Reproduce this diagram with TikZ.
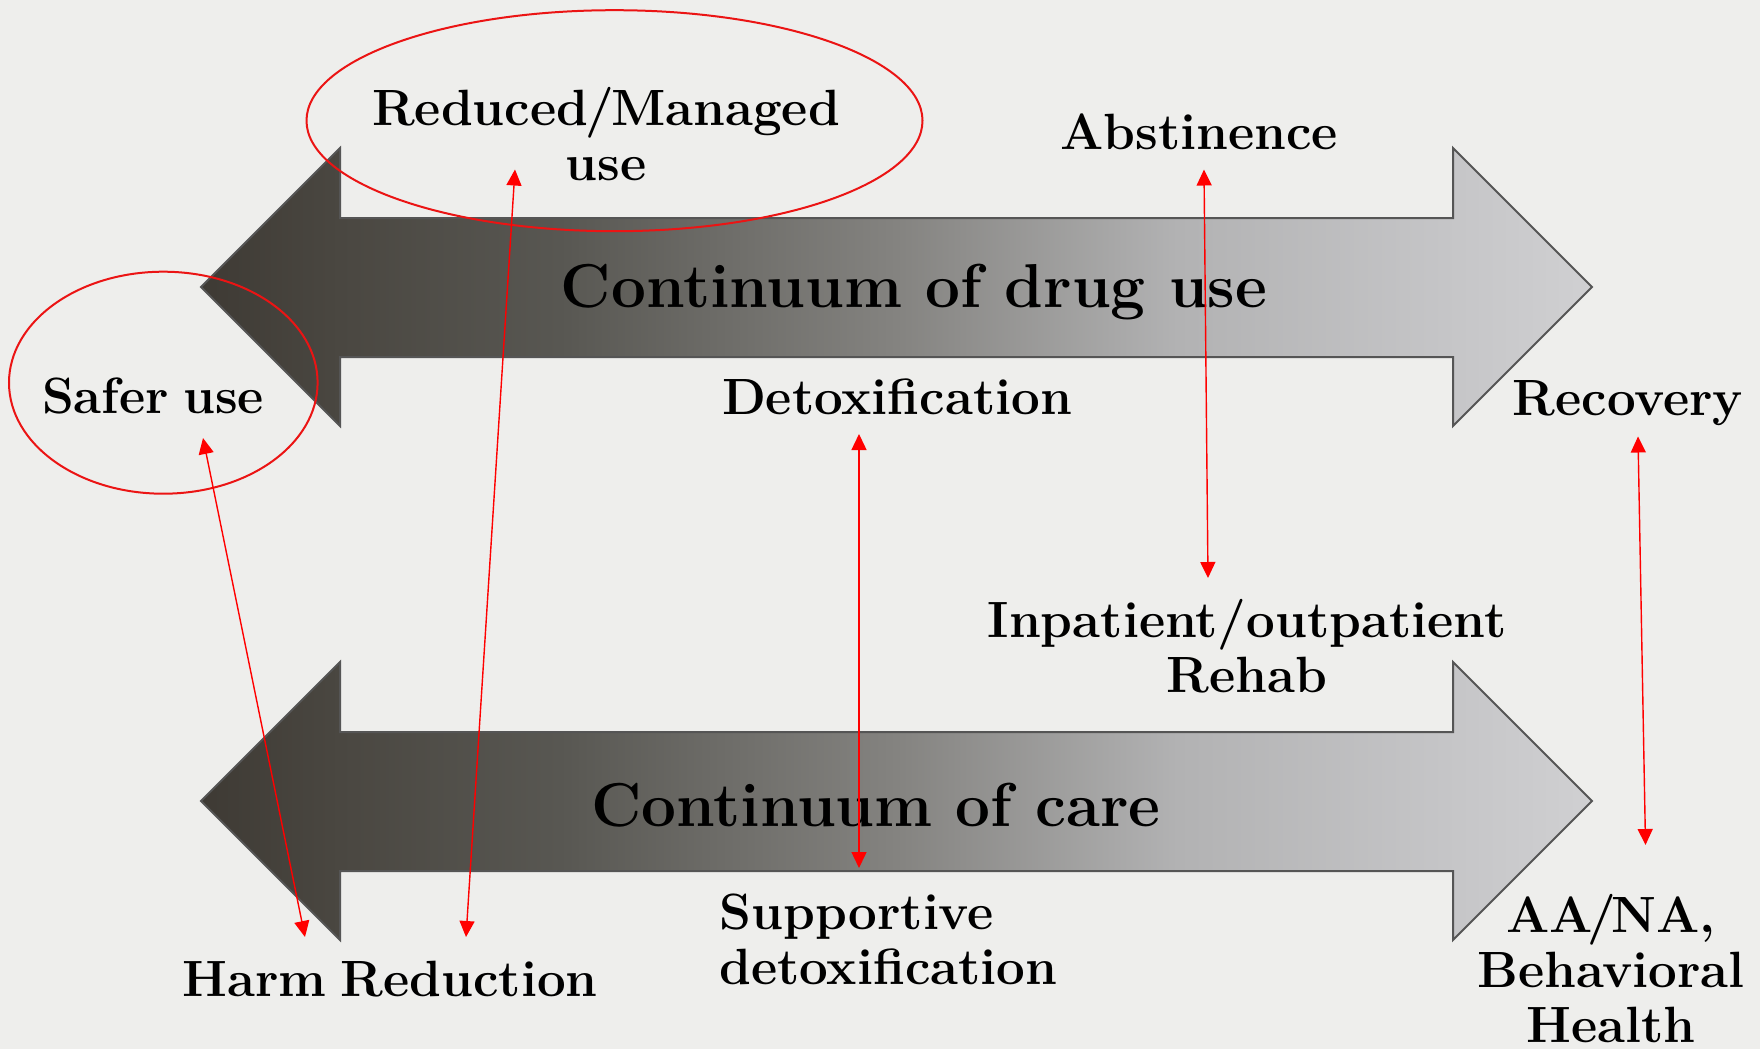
\documentclass[tikz,border=0pt]{standalone}
\usetikzlibrary{arrows.meta}
\definecolor{bg}{RGB}{238,238,236}
\definecolor{outl}{RGB}{85,85,85}
\definecolor{ringred}{RGB}{235,20,20}
\definecolor{cA}{RGB}{62,58,52}
\definecolor{cB}{RGB}{74,71,65}
\definecolor{cC}{RGB}{88,87,82}
\definecolor{cD}{RGB}{132,131,128}
\definecolor{cE}{RGB}{178,178,179}
\definecolor{cF}{RGB}{198,198,200}
\definecolor{cG}{RGB}{208,208,210}
\pgfdeclarehorizontalshading{arrowshade}{100bp}{color(0bp)=(cA); color(25bp)=(cA); color(30bp)=(cB); color(37.9bp)=(cC); color(50bp)=(cD); color(60.1bp)=(cE); color(70.2bp)=(cF); color(75bp)=(cG); color(100bp)=(cG)}
\newcommand{\lblfont}{\fontsize{25.5}{27.5}\selectfont\bfseries\spaceskip=0.28em plus 0.1em minus 0.1em\relax}
\tikzset{
  bigarrow/.style={draw=outl, line width=1pt, shading=arrowshade, line join=miter},
  lbl/.style={font=\lblfont, align=center, inner sep=0pt},
  ttl/.style={font=\fontsize{31}{34}\selectfont\bfseries, inner sep=0pt},
  ring/.style={draw=ringred, line width=1pt},
  link/.style={red, line width=0.7pt, {Triangle[width=7.5pt,length=8pt]}-{Triangle[width=7.5pt,length=8pt]}}
}
\begin{document}
\begin{tikzpicture}[x=0.5pt,y=-0.5pt]
\useasboundingbox (0,0) rectangle (1760,1049);
\fill[bg] (0,0) rectangle (1760,1049);
% two double arrows
\path[bigarrow] (201,287) -- (340,148) -- (340,218) -- (1453,218) -- (1453,148) -- (1592,287) -- (1453,426) -- (1453,357) -- (340,357) -- (340,426) -- cycle;
\begin{scope}[shift={(0,514)}]
\path[bigarrow] (201,287) -- (340,148) -- (340,218) -- (1453,218) -- (1453,148) -- (1592,287) -- (1453,426) -- (1453,357) -- (340,357) -- (340,426) -- cycle;
\end{scope}
% labels
\node[ttl] (title1) at (914,292.5) {Continuum of drug use};
\node[ttl] (title2) at (876,805) {Continuum of care};
\node[lbl] (rmu) at (606,134) {Reduced\kern-1.5pt/\kern-1.5pt Managed\\use};
\node[lbl] (abst) at (1199,132) {Abstinence};
\node[lbl] (safer) at (153,396) {Safer use};
\node[lbl] (detox) at (897,397) {Detoxification};
\node[lbl] (recov) at (1628,403.5) {Recovery};
\node[lbl] (inpat) at (1247,646) {Inpatient/outpatient\\Rehab};
\node[lbl, align=left, anchor=west] (suppdet) at (719,939) {Supportive\\detoxification};
\node[lbl] (harm) at (390,979) {Harm Reduction};
\node[lbl] (aana) at (1611,969) {AA\kern-2.5pt/\kern-2.5pt NA,\\Behavioral\\Health};
% red ellipses
\draw[ring] (614.5,120.7) ellipse [x radius=154pt, y radius=55.25pt];
\draw[ring] (163.3,382.7) ellipse [x radius=77.15pt, y radius=55.5pt];
% red connectors
\coordinate (saferEnd) at (203,438);
\coordinate (harmEndA) at (305,937);
\coordinate (rmuEnd) at (515,169.5);
\coordinate (harmEndB) at (466,937);
\coordinate (detoxEnd) at (859,434);
\coordinate (suppEnd) at (859,868);
\coordinate (abstEnd) at (1204,169.5);
\coordinate (inpatEnd) at (1208,578);
\coordinate (recovEnd) at (1638,436.5);
\coordinate (aanaEnd) at (1645.5,845);
\draw[link] (saferEnd) -- (harmEndA);
\draw[link] (rmuEnd) -- (harmEndB);
\draw[link] (detoxEnd) -- (suppEnd);
\draw[link] (abstEnd) -- (inpatEnd);
\draw[link] (recovEnd) -- (aanaEnd);
\end{tikzpicture}
\end{document}
